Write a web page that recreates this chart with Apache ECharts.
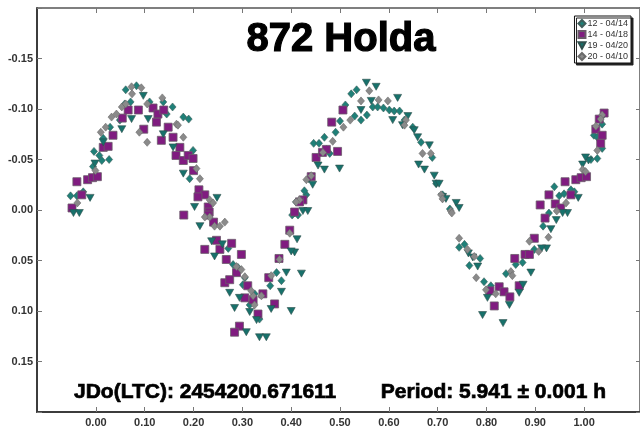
<!DOCTYPE html>
<html>
<head>
<meta charset="utf-8">
<script src="https://cdn.jsdelivr.net/npm/echarts@6/dist/echarts.min.js"></script>
<style>
html,body{margin:0;padding:0;background:#fff;}
#chart{width:640px;height:431px;}
</style>
</head>
<body>
<div id="chart"></div>
<script>
// Tick labels
const xTicks = [0.0, 0.1, 0.2, 0.3, 0.4, 0.5, 0.6, 0.7, 0.8, 0.9, 1.0];
const seriesNames = ['12 - 04/14', '14 - 04/18', '19 - 04/20', '20 - 04/10'];

// [phase, magnitude]
const s12 = [
[-0.052,-0.014],[-0.039,-0.014],[-0.026,-0.018],[-0.004,-0.058],[0.007,-0.054],[0.027,-0.050],
[0.015,-0.071],[0.029,-0.082],[0.049,-0.089],[0.059,-0.105],[0.061,-0.119],[0.083,-0.123],
[0.071,-0.107],[0.110,-0.107],[0.138,-0.107],[0.157,-0.102],[0.179,-0.092],[0.190,-0.090],
[0.145,-0.095],[0.199,-0.059],[0.192,-0.031],[-0.006,-0.043],[0.012,-0.049],
[0.271,0.038],[0.305,0.067],[0.281,0.054],[0.291,0.057],[0.301,0.074],[0.315,0.094],
[0.325,0.083],[0.335,0.108],[0.370,0.062],[0.357,0.075],[0.380,0.070],[0.402,0.005],
[0.414,0.005],[0.431,-0.015],[0.410,-0.008],
[0.523,-0.115],[0.534,-0.119],[0.511,-0.104],[0.567,-0.102],[0.577,-0.102],[0.589,-0.101],
[0.601,-0.099],[0.611,-0.098],[0.622,-0.098],[0.555,-0.094],[0.543,-0.089],[0.530,-0.093],
[0.500,-0.088],[0.491,-0.077],[0.468,-0.072],[0.446,-0.066],[0.457,-0.066],[0.472,-0.060],
[0.479,-0.056],[0.436,-0.031],[0.427,-0.019],[0.407,0.003],[0.666,-0.067],[0.689,-0.052],
[0.632,-0.089],[0.649,-0.082],[0.725,-0.001],[0.710,-0.015],
[0.697,-0.026],[0.744,0.037],[0.755,0.034],[0.787,0.048],[0.765,0.055],[0.795,0.071],
[0.809,0.075],[0.840,0.063],[0.860,0.054],[0.874,0.052],[0.898,0.039],[0.916,0.016],
[0.928,0.003],[0.939,-0.023],[0.949,-0.014],[0.973,-0.020],[0.980,-0.018],[1.027,-0.051],
[0.997,-0.033],[0.959,-0.016],[1.037,-0.085],[1.020,-0.074],[1.027,-0.072],[1.037,-0.061],
[1.014,-0.050],[1.039,-0.094]
];

const s14 = [
[-0.049,-0.002],[-0.029,-0.015],[-0.039,-0.028],[-0.017,-0.030],[-0.007,-0.032],[0.003,-0.033],
[0.015,-0.062],[0.025,-0.063],[0.035,-0.074],[0.054,-0.091],[0.066,-0.099],[0.087,-0.099],
[0.098,-0.080],[0.117,-0.101],[0.127,-0.095],[0.139,-0.099],[0.124,-0.087],[0.134,-0.069],
[0.148,-0.082],[0.158,-0.072],[0.172,-0.062],[0.164,-0.054],[0.179,-0.049],[0.189,-0.054],
[0.199,-0.051],[0.200,-0.039],[0.211,-0.020],[0.223,-0.015],[0.209,-0.013],[0.230,-0.003],
[0.180,0.005],[0.241,0.012],[0.247,0.030],[0.223,0.039],[0.232,0.002],[0.230,0.005],
[0.254,0.039],[0.278,0.033],[0.267,0.049],[0.298,0.044],[0.288,0.062],[0.264,0.072],
[0.274,0.069],[0.311,0.075],[0.305,0.087],[0.322,0.089],[0.332,0.103],[0.294,0.115],
[0.284,0.121],[0.342,0.083],[0.366,0.093],[0.354,0.067],[0.375,0.048],[0.387,0.034],
[0.397,0.020],[0.407,0.002],[0.424,-0.010],[0.441,-0.033],[0.451,-0.052],[0.464,-0.057],
[0.495,-0.058],[0.506,-0.099],[0.483,-0.087],[0.472,-0.060],[0.417,-0.008],
[0.807,0.080],[0.826,0.076],[0.836,0.081],[0.848,0.086],[0.816,0.095],[0.867,0.075],
[0.858,0.048],[0.879,0.044],[0.888,0.044],[0.898,0.028],[0.920,0.008],[0.910,-0.005],
[0.941,-0.006],[0.952,-0.002],[0.928,-0.015],[0.961,-0.028],[0.983,-0.030],[0.994,-0.032],
[1.005,-0.033],[0.973,-0.015],[1.031,-0.090],[1.024,-0.080],[1.037,-0.074],[1.034,-0.066],
[1.041,-0.096]
];

const s19 = [
[-0.046,0.003],[-0.034,0.003],[-0.012,-0.012],[-0.002,-0.046],[0.015,-0.067],[0.053,-0.080],
[0.097,-0.113],[0.073,-0.090],[0.107,-0.090],[0.138,-0.075],[0.158,-0.062],[0.179,-0.036],
[0.202,-0.003],[0.213,0.016],[0.237,0.031],[0.243,0.046],
[0.248,-0.012],[0.259,0.034],[0.274,0.082],[0.284,0.097],[0.294,0.087],[0.315,0.101],
[0.329,0.109],[0.308,0.121],[0.335,0.126],[0.349,0.126],[0.380,0.081],[0.359,0.098],
[0.390,0.062],[0.400,0.100],[0.421,0.063],[0.407,0.042],[0.400,0.041],[0.412,0.029],
[0.424,0.001],[0.434,0.001],[0.444,-0.025],[0.455,-0.044],[0.468,-0.040],[0.499,-0.041],
[0.554,-0.126],[0.574,-0.122],[0.618,-0.111],[0.564,-0.108],[0.543,-0.099],[0.608,-0.089],
[0.639,-0.093],[0.628,-0.084],[0.652,-0.079],[0.659,-0.072],[0.683,-0.064],[0.661,-0.045],
[0.673,-0.040],[0.693,-0.034],[0.697,-0.026],[0.703,-0.026],[0.710,-0.013],[0.717,-0.011],
[0.738,-0.007],[0.744,-0.002],
[0.763,0.043],[0.782,0.056],[0.772,0.047],[0.802,0.087],[0.847,0.094],[0.792,0.104],
[0.834,0.112],[0.867,0.082],[0.875,0.074],[0.891,0.062],[0.923,0.038],[0.913,0.038],
[0.932,0.019],[0.943,0.010],[0.966,0.003],[0.956,0.003],[0.988,-0.012],[0.997,-0.045],
[1.009,-0.049],[1.003,-0.052]
];

const s20 = [
[-0.038,-0.007],[-0.001,-0.039],[0.010,-0.077],[0.020,-0.082],[0.032,-0.092],[0.042,-0.095],
[0.053,-0.102],[0.061,-0.105],[0.074,-0.115],[0.073,-0.122],[0.093,-0.121],[0.089,-0.077],
[0.105,-0.067],[0.105,-0.105],[0.136,-0.111],[0.165,-0.085],[0.179,-0.072],[0.168,-0.084],
[0.213,-0.031],[0.206,-0.041],[0.233,0.007],
[0.233,-0.010],[0.240,-0.007],[0.223,0.007],[0.243,0.016],[0.254,0.016],[0.264,0.012],
[0.298,0.059],[0.288,0.056],[0.305,0.066],[0.322,0.085],[0.325,0.094],[0.318,0.080],
[0.339,0.085],[0.417,-0.010],[0.431,-0.030],[0.441,-0.034],[0.397,0.023],[0.376,0.049],
[0.359,0.065],
[0.560,-0.118],[0.543,-0.108],[0.579,-0.109],[0.598,-0.108],[0.507,-0.082],[0.521,-0.089],
[0.485,-0.068],[0.465,-0.057],[0.410,-0.008],[0.635,-0.089],[0.632,-0.084],[0.669,-0.056],
[0.686,-0.056],[0.707,-0.015],[0.727,0.001],[0.744,0.028],
[0.710,-0.011],[0.729,0.003],[0.761,0.039],[0.775,0.046],[0.779,0.067],[0.799,0.079],
[0.819,0.083],[0.850,0.061],[0.853,0.065],[0.888,0.031],[0.907,0.041],[0.927,0.027],
[0.944,0.001],[0.963,-0.007],[0.997,-0.040],[1.003,-0.038],[1.037,-0.094],[1.034,-0.090],
[1.024,-0.083],[1.027,-0.059]
];

const chart = echarts.init(document.getElementById('chart'), null, {renderer: 'canvas'});
const FONT = 'Liberation Sans, Arial, sans-serif';
const tickStyle = {lineStyle: {color: '#777', width: 1}};
const downTri = 'path://M0,0 L10,0 L5,9 Z';

chart.setOption({
  backgroundColor: '#ffffff',
  animation: false,
  grid: {left: 37, top: 8, right: -1, bottom: 19, containLabel: false},
  legend: {
    orient: 'vertical', right: 9, top: 16,
    data: [
      {name: seriesNames[0], icon: 'diamond'},
      {name: seriesNames[1], icon: 'rect'},
      {name: seriesNames[2], icon: downTri},
      {name: seriesNames[3], icon: 'diamond'}
    ],
    backgroundColor: '#fff', borderColor: '#111', borderWidth: 1,
    shadowColor: '#222', shadowOffsetX: 2, shadowOffsetY: 2, shadowBlur: 0,
    padding: [3, 3, 2, 3], itemGap: 2, itemWidth: 7, itemHeight: 7,
    textStyle: {fontFamily: FONT, fontSize: 9, color: '#333', padding: [0, 0, 0, -3]}
  },
  xAxis: [{
    type: 'value', min: -0.1207, max: 1.1145, position: 'bottom',
    splitLine: {show: false},
    axisLine: {show: true, onZero: false, lineStyle: {color: '#3c3c3c', width: 2}},
    axisTick: {show: true, inside: true, length: 5, customValues: xTicks, lineStyle: tickStyle.lineStyle},
    axisLabel: {show: true, customValues: xTicks, margin: 5, fontFamily: FONT, fontWeight: 'bold', fontSize: 11, color: '#333',
      formatter: v => v.toFixed(2)}
  }, {
    type: 'value', min: -0.1207, max: 1.1145, position: 'top',
    splitLine: {show: false},
    axisLine: {show: true, onZero: false, lineStyle: {color: '#555', width: 1.5}},
    axisTick: {show: true, inside: true, length: 5, customValues: xTicks, lineStyle: tickStyle.lineStyle},
    axisLabel: {show: false}
  }],
  yAxis: [{
    type: 'value', min: -0.2, max: 0.2, interval: 0.05, inverse: true, position: 'left',
    splitLine: {show: false},
    axisLine: {show: true, onZero: false, lineStyle: {color: '#3c3c3c', width: 2}},
    axisTick: {show: true, inside: true, length: 5, lineStyle: tickStyle.lineStyle},
    axisLabel: {margin: 4, fontFamily: FONT, fontWeight: 'bold', fontSize: 11, color: '#333',
      formatter: v => (Math.abs(v) > 0.19 ? '' : v.toFixed(2))}
  }, {
    type: 'value', min: -0.2, max: 0.2, interval: 0.05, inverse: true, position: 'right',
    splitLine: {show: false},
    axisLine: {show: true, onZero: false, lineStyle: {color: '#555', width: 1.5}},
    axisTick: {show: true, inside: true, length: 4, lineStyle: tickStyle.lineStyle},
    axisLabel: {show: false}
  }],
  graphic: [
    {type: 'text', x: 341, y: 40, style: {text: '872 Holda', font: 'bold 40px ' + FONT, fill: '#000', stroke: '#000', lineWidth: 1.2, textAlign: 'center', textVerticalAlign: 'middle'}},
    {type: 'text', x: 74, y: 392, style: {text: 'JDo(LTC): 2454200.671611', font: 'bold 21px ' + FONT, fill: '#000', stroke: '#000', lineWidth: 0.7, textAlign: 'left', textVerticalAlign: 'middle'}},
    {type: 'text', x: 606, y: 392, style: {text: 'Period: 5.941 \u00b1 0.001 h', font: 'bold 21px ' + FONT, fill: '#000', stroke: '#000', lineWidth: 0.7, textAlign: 'right', textVerticalAlign: 'middle'}}
  ],
  series: [
    {name: seriesNames[0], type: 'scatter', data: s12, symbol: 'diamond', symbolSize: [7, 8],
      itemStyle: {color: '#1f8078', borderColor: '#3e5e5a', borderWidth: 0.6, opacity: 1}},
    {name: seriesNames[1], type: 'scatter', data: s14, symbol: 'rect', symbolSize: 8,
      itemStyle: {color: '#801c80', borderColor: '#6a5a6a', borderWidth: 0.8, opacity: 1}},
    {name: seriesNames[2], type: 'scatter', data: s19, symbol: 'triangle', symbolRotate: 180, symbolSize: [8, 7],
      itemStyle: {color: '#17716b', borderColor: '#2f4f4c', borderWidth: 0.6, opacity: 1}},
    {name: seriesNames[3], type: 'scatter', data: s20, symbol: 'diamond', symbolSize: [7, 8],
      itemStyle: {color: '#8a8a8a', borderColor: '#6a6a6a', borderWidth: 0.6, opacity: 1}}
  ]
});
</script>
</body>
</html>
